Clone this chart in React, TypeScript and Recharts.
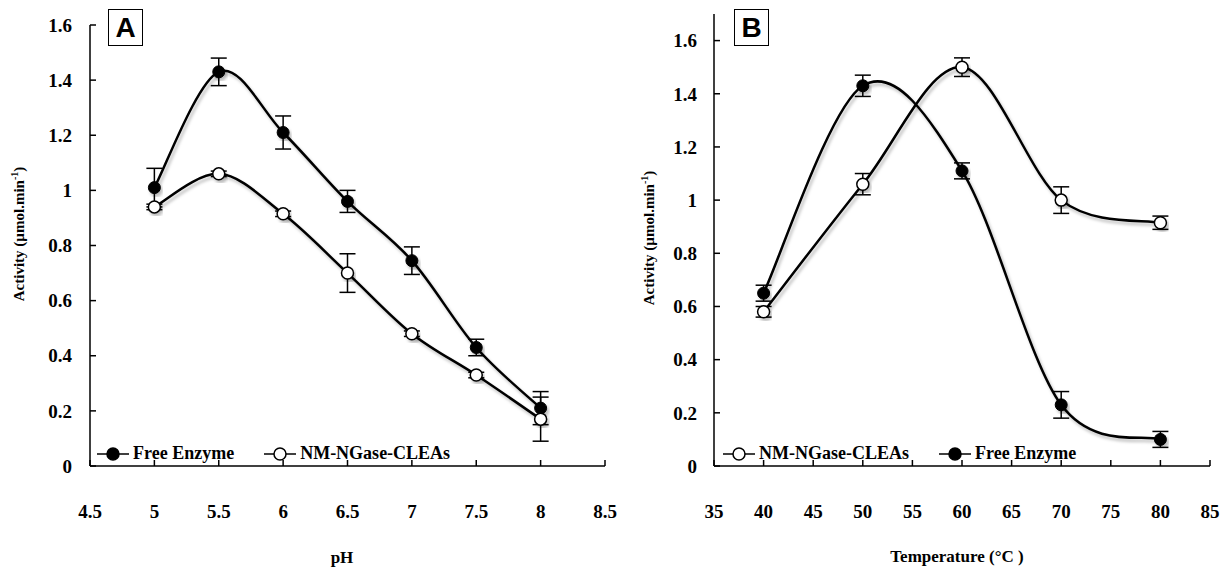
import React from 'react';
import { LineChart, Line, XAxis, YAxis, ErrorBar, Legend } from 'recharts';

// panel A: activity vs pH
const phValues = [5, 5.5, 6, 6.5, 7, 7.5, 8];
const phFree = [1.01, 1.43, 1.21, 0.96, 0.745, 0.43, 0.21];
const phFreeErr = [0.07, 0.05, 0.06, 0.04, 0.05, 0.03, 0.06];
const phClea = [0.94, 1.06, 0.915, 0.7, 0.48, 0.33, 0.17];
const phCleaErr = [0.01, 0.01, 0.01, 0.07, 0.01, 0.01, 0.08];
const phTicks = [4.5, 5, 5.5, 6, 6.5, 7, 7.5, 8, 8.5];

// panel B: activity vs temperature
const tempValues = [40, 50, 60, 70, 80];
const tempFree = [0.65, 1.43, 1.11, 0.23, 0.1];
const tempFreeErr = [0.03, 0.04, 0.03, 0.05, 0.03];
const tempClea = [0.58, 1.06, 1.5, 1.0, 0.915];
const tempCleaErr = [0.02, 0.04, 0.035, 0.05, 0.025];
const tempTicks = [35, 40, 45, 50, 55, 60, 65, 70, 75, 80, 85];

const activityTicks = [0, 0.2, 0.4, 0.6, 0.8, 1, 1.2, 1.4, 1.6];

const phData = phValues.map((x, i) => ({
  x, free: phFree[i], freeErr: phFreeErr[i], clea: phClea[i], cleaErr: phCleaErr[i],
}));
const tempData = tempValues.map((x, i) => ({
  x, free: tempFree[i], freeErr: tempFreeErr[i], clea: tempClea[i], cleaErr: tempCleaErr[i],
}));

const SERIF = '"Liberation Serif", "Times New Roman", serif';

// Excel-like smoothed line (Catmull-Rom as bezier)
const smooth = (context: any) => {
  let pts: number[][] = [];
  return {
    areaStart() {},
    areaEnd() {},
    lineStart() { pts = []; },
    point(x: number, y: number) { pts.push([+x, +y]); },
    lineEnd() {
      if (!pts.length) return;
      context.moveTo(pts[0][0], pts[0][1]);
      for (let i = 0; i < pts.length - 1; i++) {
        const p0 = pts[i - 1] || pts[i];
        const p1 = pts[i];
        const p2 = pts[i + 1];
        const p3 = pts[i + 2] || p2;
        context.bezierCurveTo(
          p1[0] + (p2[0] - p0[0]) / 6, p1[1] + (p2[1] - p0[1]) / 6,
          p2[0] - (p3[0] - p1[0]) / 6, p2[1] - (p3[1] - p1[1]) / 6,
          p2[0], p2[1],
        );
      }
    },
  };
};

const tickStyle = { fontFamily: SERIF, fontWeight: 700, fontSize: 19, fill: '#000' };
const axisLine = { stroke: '#000', strokeWidth: 1.5 };

const filledDot = { r: 6, fill: '#000', stroke: '#000', strokeWidth: 1 };
const openDot = { r: 6, fill: '#fff', stroke: '#000', strokeWidth: 1.5 };

const LegendItem = ({ filled, label }: { filled: boolean; label: string }) => (
  <div style={{ display: 'flex', alignItems: 'center' }}>
    <svg width={32} height={16}>
      <line x1={0} y1={8} x2={32} y2={8} stroke="#000" strokeWidth={1.5} />
      <circle cx={16} cy={8} r={6} fill={filled ? '#000' : '#fff'} stroke="#000" strokeWidth={1.5} />
    </svg>
    <span style={{ fontFamily: SERIF, fontWeight: 700, fontSize: 18, marginLeft: 4 }}>{label}</span>
  </div>
);

const legendContent = (items: { filled: boolean; label: string }[], gap: number) => () => (
  <div style={{ display: 'flex', gap }}>
    {items.map((it) => <LegendItem key={it.label} {...it} />)}
  </div>
);

const PanelBox = ({ left, text }: { left: number; text: string }) => (
  <div style={{
    position: 'absolute', left, top: 9, width: 33, height: 35, border: '1.5px solid #000',
    display: 'flex', alignItems: 'center', justifyContent: 'center',
    fontFamily: '"Liberation Sans", Arial, sans-serif', fontWeight: 700, fontSize: 28,
  }}>{text}</div>
);

const YLabel = ({ cx, cy }: { cx: number; cy: number }) => (
  <div style={{
    position: 'absolute', left: cx, top: cy, transform: 'translate(-50%, -50%) rotate(-90deg)',
    whiteSpace: 'nowrap', fontFamily: SERIF, fontWeight: 700, fontSize: 15,
  }}>Activity (µmol.min<sup style={{ fontSize: 10 }}>-1</sup>)</div>
);

const XLabel = ({ cx, cy, text }: { cx: number; cy: number; text: string }) => (
  <div style={{
    position: 'absolute', left: cx, top: cy, transform: 'translate(-50%, -50%)',
    whiteSpace: 'nowrap', fontFamily: SERIF, fontWeight: 700, fontSize: 17,
  }}>{text}</div>
);

const shadowDefs = (
  <defs>
    <filter id="lineShadow" x="-10%" y="-10%" width="130%" height="130%">
      <feDropShadow dx="2" dy="3" stdDeviation="1.5" floodColor="#000" floodOpacity="0.25" />
    </filter>
  </defs>
);

export default function App() {
  return (
    <div style={{ position: 'absolute', left: 0, top: 0, width: 1227, height: 570, background: '#fff' }}>
      <div style={{ position: 'absolute', left: 0, top: 0 }}>
        <LineChart width={620} height={570} data={phData} margin={{ top: 25, right: 15, bottom: 43, left: 30 }}>
          {shadowDefs}
          <XAxis dataKey="x" type="number" domain={[4.5, 8.5]} ticks={phTicks} height={40}
            tick={tickStyle} axisLine={axisLine} tickLine={axisLine} tickSize={-6} tickMargin={45} />
          <YAxis type="number" domain={[0, 1.6]} ticks={activityTicks} width={60}
            tick={tickStyle} axisLine={axisLine} tickLine={axisLine} tickSize={-6} tickMargin={24} />
          <Legend content={legendContent([
            { filled: true, label: 'Free Enzyme' },
            { filled: false, label: 'NM-NGase-CLEAs' },
          ], 30)} wrapperStyle={{ left: 97, top: 443, width: 'auto' }} />
          <Line dataKey="free" type={smooth as any} stroke="#000" strokeWidth={2.5} filter="url(#lineShadow)"
            dot={filledDot} activeDot={false} isAnimationActive={false}>
            <ErrorBar dataKey="freeErr" width={8} stroke="#000" strokeWidth={1.5} direction="y" />
          </Line>
          <Line dataKey="clea" type={smooth as any} stroke="#000" strokeWidth={2.5} filter="url(#lineShadow)"
            dot={openDot} activeDot={false} isAnimationActive={false}>
            <ErrorBar dataKey="cleaErr" width={8} stroke="#000" strokeWidth={1.5} direction="y" />
          </Line>
        </LineChart>
      </div>
      <div style={{ position: 'absolute', left: 620, top: 0 }}>
        <LineChart width={607} height={570} data={tempData} margin={{ top: 14, right: 17, bottom: 43, left: 34 }}>
          {shadowDefs}
          <XAxis dataKey="x" type="number" domain={[35, 85]} ticks={tempTicks} height={40}
            tick={tickStyle} axisLine={axisLine} tickLine={axisLine} tickSize={-6} tickMargin={45} />
          <YAxis type="number" domain={[0, 1.7]} ticks={activityTicks} width={60}
            tick={tickStyle} axisLine={axisLine} tickLine={axisLine} tickSize={-6} tickMargin={23} />
          <Legend content={legendContent([
            { filled: false, label: 'NM-NGase-CLEAs' },
            { filled: true, label: 'Free Enzyme' },
          ], 30)} wrapperStyle={{ left: 103, top: 443, width: 'auto' }} />
          <Line dataKey="clea" type={smooth as any} stroke="#000" strokeWidth={2.5} filter="url(#lineShadow)"
            dot={openDot} activeDot={false} isAnimationActive={false}>
            <ErrorBar dataKey="cleaErr" width={8} stroke="#000" strokeWidth={1.5} direction="y" />
          </Line>
          <Line dataKey="free" type={smooth as any} stroke="#000" strokeWidth={2.5} filter="url(#lineShadow)"
            dot={filledDot} activeDot={false} isAnimationActive={false}>
            <ErrorBar dataKey="freeErr" width={8} stroke="#000" strokeWidth={1.5} direction="y" />
          </Line>
        </LineChart>
      </div>
      <PanelBox left={108} text="A" />
      <PanelBox left={734} text="B" />
      <YLabel cx={18} cy={234} />
      <YLabel cx={648} cy={238} />
      <XLabel cx={342} cy={558} text="pH" />
      <XLabel cx={957} cy={557} text="Temperature (°C )" />
    </div>
  );
}
